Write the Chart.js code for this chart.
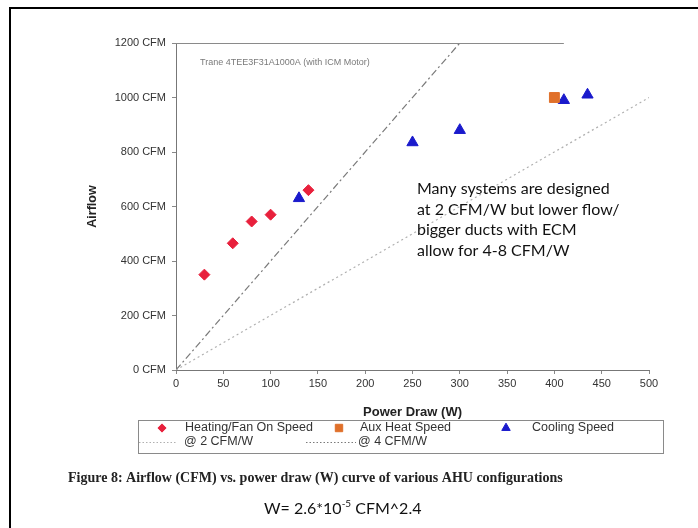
<!DOCTYPE html>
<html>
<head>
<meta charset="utf-8">
<script src="https://cdn.jsdelivr.net/npm/chart.js@4.4.1/dist/chart.umd.min.js"></script>
<style>
  html, body { margin: 0; padding: 0; background: #fff; }
  #wrap { position: relative; width: 698px; height: 528px; overflow: hidden; }
  #frame { position: absolute; left: 9px; top: 7px; width: 720px; height: 560px;
           border-left: 2px solid #000; border-top: 2px solid #000; pointer-events: none; }
  canvas { position: absolute; left: 0; top: 0; }
</style>
</head>
<body>
<div id="wrap">
  <canvas id="chart" width="698" height="528"></canvas>
  <div id="frame"></div>
</div>
<script>
// Measured operating points (power draw in W, airflow in CFM)
const heatingWatts = [30, 60, 80, 100, 140];
const heatingCfm   = [350, 465, 545, 570, 660];
const auxWatts     = [400];
const auxCfm       = [1000];
const coolingWatts = [130, 250, 300, 410, 435];
const coolingCfm   = [630, 835, 880, 990, 1010];

// Reference efficiency lines
const line2Watts = [0, 500];
const line2Cfm   = [0, 1000];
const line4Watts = [0, 300];
const line4Cfm   = [0, 1200];

// Axis ticks
const xTicks = [0, 50, 100, 150, 200, 250, 300, 350, 400, 450, 500];
const yTicks = [0, 200, 400, 600, 800, 1000, 1200];

const seriesLabels = ['Heating/Fan On Speed', 'Aux Heat Speed', 'Cooling Speed', '@ 2 CFM/W', '@ 4 CFM/W'];

const pts = (xs, ys) => xs.map((x, i) => ({ x, y: ys[i] }));

const AXIS_FONT = '"Liberation Sans", Arial, sans-serif';
const NOTE_FONT = 'Lato, "Open Sans", sans-serif';
const PLOT = { left: 176, top: 43, right: 649, bottom: 370 };

const overlay = {
  id: 'overlay',
  afterDraw(chart) {
    const ctx = chart.ctx;
    const area = chart.chartArea;
    const xs = chart.scales.x;
    ctx.save();

    // top frame line of the plot
    ctx.strokeStyle = '#8a8a8a';
    ctx.lineWidth = 1;
    ctx.beginPath();
    ctx.moveTo(area.left, area.top + 0.5);
    ctx.lineTo(xs.getPixelForValue(410), area.top + 0.5);
    ctx.stroke();

    // axis titles
    ctx.fillStyle = '#222';
    ctx.textAlign = 'center';
    ctx.textBaseline = 'middle';
    ctx.font = 'bold 13px ' + AXIS_FONT;
    ctx.fillText('Power Draw (W)', (area.left + area.right) / 2, 412);
    ctx.save();
    ctx.translate(93, (area.top + area.bottom) / 2);
    ctx.rotate(-Math.PI / 2);
    ctx.font = 'bold 12.5px ' + AXIS_FONT;
    ctx.fillText('Airflow', 0, 0);
    ctx.restore();

    // unit name inside the plot
    ctx.fillStyle = '#7a7a7a';
    ctx.font = '9px ' + AXIS_FONT;
    ctx.textAlign = 'left';
    ctx.fillText('Trane 4TEE3F31A1000A (with ICM Motor)', 200, 63);

    // note on design efficiency
    ctx.fillStyle = '#111';
    ctx.font = '16px ' + NOTE_FONT;
    const note = ['Many systems are designed', 'at 2 CFM/W but lower flow/', 'bigger ducts with ECM', 'allow for 4-8 CFM/W'];
    note.forEach((t, i) => ctx.fillText(t, 417, 189 + i * 20.5));

    // legend box
    const box = { x: 138.5, y: 420.5, w: 525, h: 33 };
    ctx.strokeStyle = '#8a8a8a';
    ctx.lineWidth = 1;
    ctx.strokeRect(box.x, box.y, box.w, box.h);
    const slots = [
      { mx: 162, tx: 185, y: 428 },
      { mx: 339, tx: 360, y: 428 },
      { mx: 506, tx: 532, y: 428 },
      { tx: 184, y: 442, line: [139, 176] },
      { tx: 358, y: 442, line: [306, 356] }
    ];
    ctx.font = '12.5px ' + AXIS_FONT;
    chart.data.datasets.forEach((ds, i) => {
      const s = slots[i];
      if (s.line) {
        ctx.save();
        ctx.strokeStyle = ds.borderColor;
        ctx.lineWidth = 1;
        ctx.setLineDash([1.5, 2]);
        ctx.beginPath();
        ctx.moveTo(s.line[0], s.y + 0.5);
        ctx.lineTo(s.line[1], s.y + 0.5);
        ctx.stroke();
        ctx.restore();
      } else {
        ctx.fillStyle = ds.backgroundColor;
        ctx.strokeStyle = ds.borderColor;
        Chart.helpers.drawPoint(ctx, { pointStyle: ds.pointStyle, radius: ds.pointRadius * 0.75, borderWidth: 1 }, s.mx, s.y);
      }
      ctx.fillStyle = '#333';
      ctx.textAlign = 'left';
      ctx.fillText(ds.label, s.tx, s.y);
    });

    // figure caption
    ctx.fillStyle = '#222';
    ctx.font = 'bold 14px "Liberation Serif", "Times New Roman", serif';
    ctx.textAlign = 'left';
    ctx.fillText('Figure 8: Airflow (CFM) vs. power draw (W) curve of various AHU configurations', 68, 478);

    // fitted power law
    ctx.fillStyle = '#111';
    ctx.font = '16px ' + NOTE_FONT;
    let x = 264;
    const y = 509;
    const part1 = 'W= 2.6*10';
    ctx.fillText(part1, x, y);
    x += ctx.measureText(part1).width;
    ctx.font = '10px ' + NOTE_FONT;
    ctx.fillText('-5', x, y - 5);
    x += ctx.measureText('-5').width;
    ctx.font = '16px ' + NOTE_FONT;
    ctx.fillText(' CFM^2.4', x, y);

    ctx.restore();
  }
};

new Chart(document.getElementById('chart'), {
  type: 'scatter',
  data: {
    datasets: [
      {
        label: seriesLabels[0],
        data: pts(heatingWatts, heatingCfm),
        pointStyle: 'rectRot', pointRadius: 5.5, borderWidth: 1,
        backgroundColor: '#e8203c', borderColor: '#e8203c'
      },
      {
        label: seriesLabels[1],
        data: pts(auxWatts, auxCfm),
        pointStyle: 'rect', pointRadius: 7, borderWidth: 1,
        backgroundColor: '#e0702a', borderColor: '#e0702a'
      },
      {
        label: seriesLabels[2],
        data: pts(coolingWatts, coolingCfm),
        pointStyle: 'triangle', pointRadius: 6.5, borderWidth: 1,
        backgroundColor: '#1a1acc', borderColor: '#1a1acc'
      },
      {
        label: seriesLabels[3],
        data: pts(line2Watts, line2Cfm),
        type: 'line', showLine: true, pointRadius: 0,
        borderColor: '#b0b0b0', borderWidth: 1.2, borderDash: [2, 3], fill: false
      },
      {
        label: seriesLabels[4],
        data: pts(line4Watts, line4Cfm),
        type: 'line', showLine: true, pointRadius: 0,
        borderColor: '#7a7a7a', borderWidth: 1.2, borderDash: [7, 3, 2, 3], fill: false
      }
    ]
  },
  options: {
    responsive: false,
    animation: false,
    events: [],
    layout: { padding: { left: 0, top: PLOT.top, right: 698 - PLOT.right, bottom: 0 } },
    plugins: { legend: { display: false }, tooltip: { enabled: false } },
    scales: {
      x: {
        type: 'linear', min: 0, max: 500,
        afterBuildTicks: (axis) => { axis.ticks = xTicks.map(v => ({ value: v })); },
        afterFit: (axis) => { axis.height = 528 - PLOT.bottom; },
        ticks: { color: '#333', font: { family: AXIS_FONT, size: 11 }, padding: 3 },
        grid: { drawOnChartArea: false, drawTicks: true, tickLength: 4, color: '#888' },
        border: { display: true, color: '#777', width: 1 }
      },
      y: {
        type: 'linear', min: 0, max: 1200,
        afterBuildTicks: (axis) => { axis.ticks = yTicks.map(v => ({ value: v })); },
        afterFit: (axis) => { axis.width = PLOT.left; },
        ticks: { color: '#333', font: { family: AXIS_FONT, size: 11 }, padding: 6,
                 callback: (v) => v + ' CFM' },
        grid: { drawOnChartArea: false, drawTicks: true, tickLength: 4, color: '#888' },
        border: { display: true, color: '#777', width: 1 }
      }
    }
  },
  plugins: [overlay]
});
</script>
</body>
</html>
